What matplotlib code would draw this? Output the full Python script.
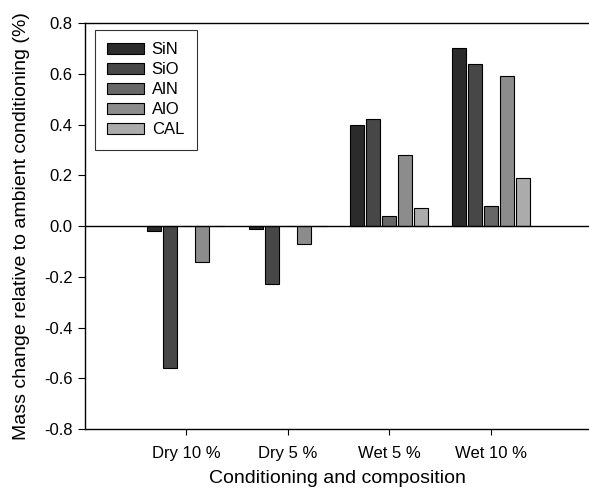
import matplotlib
matplotlib.use("Agg")
import matplotlib.pyplot as plt
import numpy as np

plt.rcParams['font.family'] = ['Liberation Sans', 'DejaVu Sans']

categories = ["Dry 10 %", "Dry 5 %", "Wet 5 %", "Wet 10 %"]
series = ["SiN", "SiO", "AlN", "AlO", "CAL"]
SiN = [-0.02, -0.01, 0.40, 0.70]
SiO = [-0.56, -0.23, 0.42, 0.64]
AlN = [0.0, 0.0, 0.04, 0.08]
AlO = [-0.14, -0.07, 0.28, 0.59]
CAL = [0.0, 0.0, 0.07, 0.19]
values = [SiN, SiO, AlN, AlO, CAL]
colors = ["#2b2b2b", "#474747", "#676767", "#8c8c8c", "#ababab"]
yticks = [0.8, 0.6, 0.4, 0.2, 0.0, -0.2, -0.4, -0.6, -0.8]

fig = plt.figure(figsize=(5.89, 4.95), dpi=100)
ax = fig.add_axes([0.1443, 0.1333, 0.8557, 0.8202])

step = 0.1576
width = 0.138
x = np.arange(len(categories))
for k, (name, vals, c) in enumerate(zip(series, values, colors)):
    ax.bar(x + (k - 2) * step, vals, width=width, color=c, edgecolor="black",
           linewidth=0.8, label=name, zorder=3)

ax.axhline(0, color="black", linewidth=1.0, zorder=4)

ax.set_xticks(x)
ax.set_xticklabels(categories, fontsize=12)
ax.set_xlim(-0.995, 3.97)
ax.set_ylim(-0.8, 0.8)
ax.set_yticks(yticks)
ax.set_yticklabels([f"{v:.1f}" for v in yticks], fontsize=12)
ax.tick_params(axis='y', direction='out', length=5, width=0.8, pad=4)
ax.tick_params(axis='x', direction='out', length=4, width=0.8, pad=8)

ax.spines['right'].set_visible(False)
for s in ['left', 'top', 'bottom']:
    ax.spines[s].set_linewidth(1.0)

ax.set_xlabel("Conditioning and composition", fontsize=14, labelpad=7)
ax.set_ylabel("Mass change relative to ambient conditioning (%)", fontsize=14, labelpad=10)

leg = ax.legend(loc="upper left", bbox_to_anchor=(0.0198, 0.983), fontsize=12,
                frameon=True, fancybox=False, edgecolor="black",
                handlelength=2.2, handleheight=0.62, labelspacing=0.3,
                borderpad=0.75, handletextpad=0.45, borderaxespad=0)
leg.get_frame().set_linewidth(0.8)

fig.savefig("out.png", dpi=100)
